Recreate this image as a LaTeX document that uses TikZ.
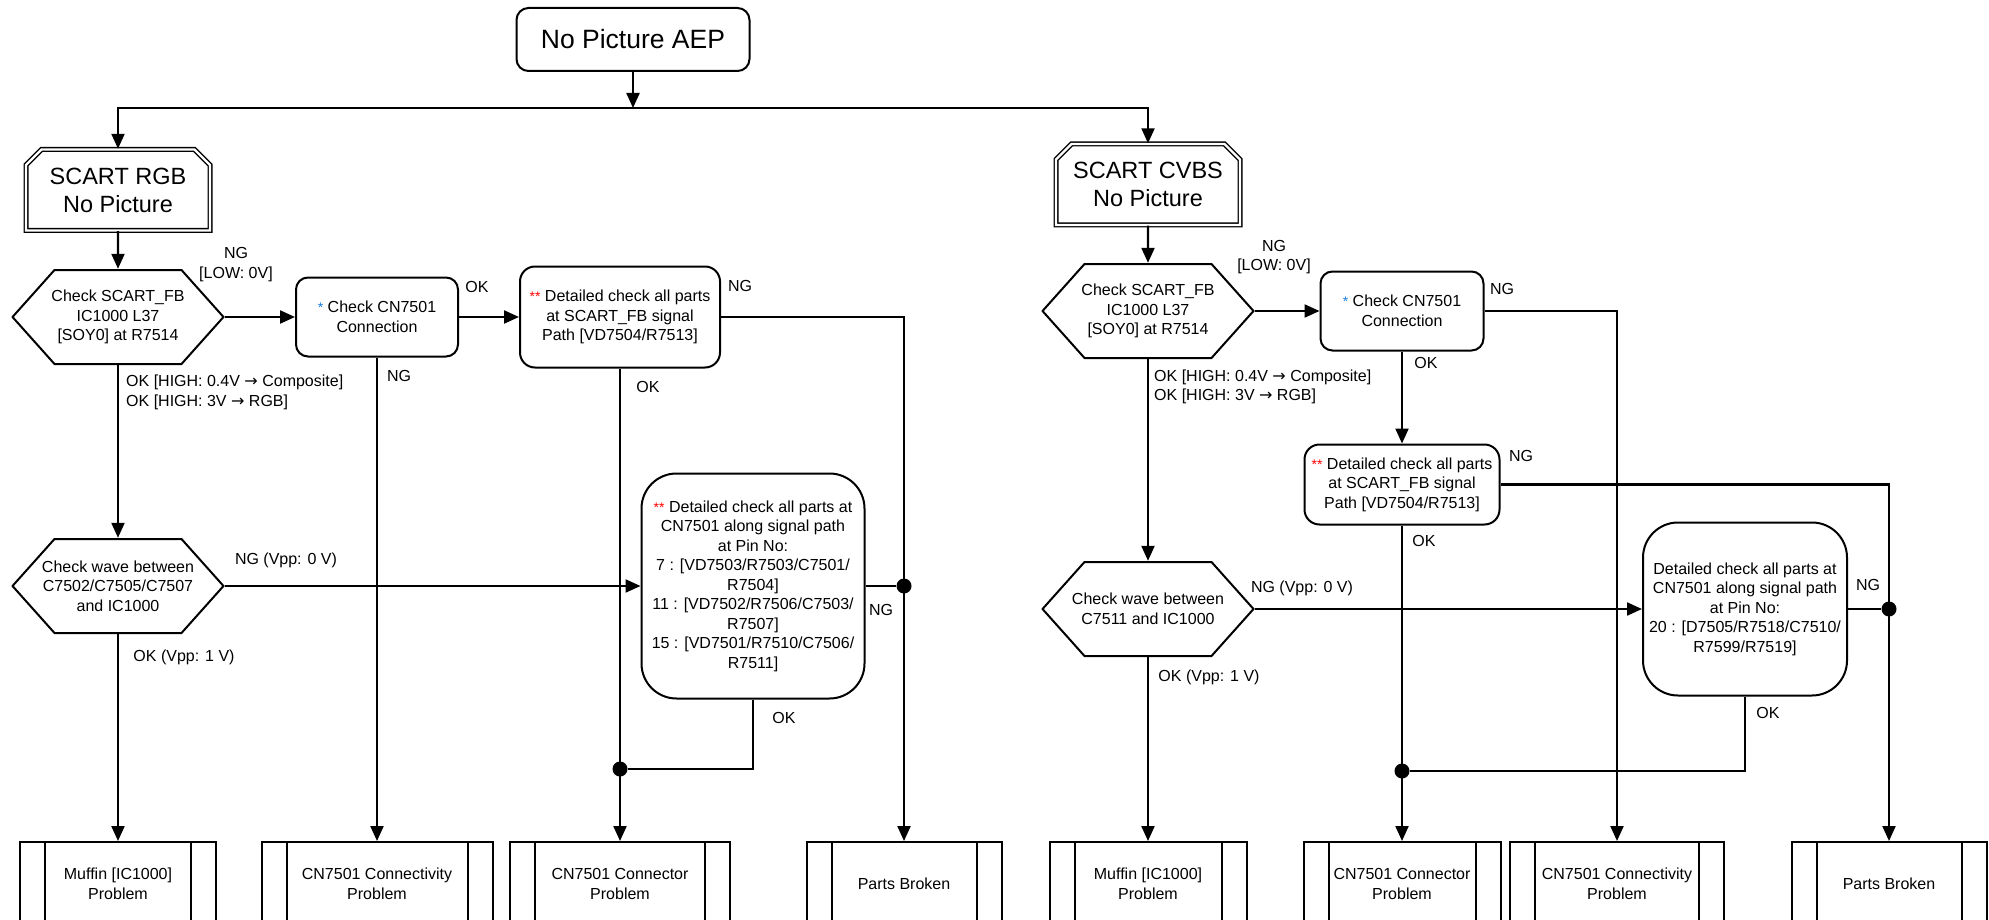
\documentclass[tikz,border=0pt]{standalone}
\usepackage{fontspec}
\setmainfont{Liberation Sans}
\newfontfamily\arrowfont{DejaVu Sans}
\usepackage{tikz}
\usetikzlibrary{arrows.meta,shapes.misc}
\definecolor{starblue}{RGB}{20,125,220}

\begin{document}
\begin{tikzpicture}[x=1pt, y=-1pt, >={Triangle[length=15pt,width=13pt]},
	every node/.style={font=\fontsize{16}{19.5}\selectfont},
	line/.style={line width=2.2pt},
	roundbox/.style={draw, line width=2pt, rounded corners=#1, align=center, inner sep=2pt},
	roundbox/.default=12pt,
	startbox/.style={draw, double, double distance=2.2pt, line width=1.4pt, chamfered rectangle, chamfered rectangle corners={north west,north east}, chamfered rectangle xsep=12pt, align=center, inner sep=2pt, font=\fontsize{23.5}{28}\selectfont},
	procbox/.style={draw, line width=2pt, minimum height=84pt, align=center, path picture={\draw[line width=2pt] ([xshift=25pt]path picture bounding box.north west) -- ([xshift=25pt]path picture bounding box.south west) ([xshift=-25pt]path picture bounding box.north east) -- ([xshift=-25pt]path picture bounding box.south east);}},
	hexbox/.style={minimum width=213pt, minimum height=96pt, align=center, inner sep=0pt, path picture={\draw[line width=2pt] ([xshift=1pt]path picture bounding box.west) -- ([xshift=43pt,yshift=-1pt]path picture bounding box.north west) -- ([xshift=-43pt,yshift=-1pt]path picture bounding box.north east) -- ([xshift=-1pt]path picture bounding box.east) -- ([xshift=-43pt,yshift=1pt]path picture bounding box.south east) -- ([xshift=43pt,yshift=1pt]path picture bounding box.south west) -- cycle;}},
	dot/.style={circle, fill, inner sep=0pt, minimum size=15pt},
	lbl/.style={inner sep=0pt, align=center}]
	\path[use as bounding box] (0,0) rectangle (1989,920);
	\clip (0,0) rectangle (1989,920);

	\node[roundbox, font=\fontsize{26.5}{32}\selectfont, minimum width=233pt, minimum height=63pt] (aep) at (633,39.5) {No Picture AEP};
	\coordinate (split) at (633,108);

	\node[startbox, minimum width=184pt, minimum height=81pt] (rgb) at (118,190) {SCART RGB\\No Picture};
	\node[hexbox] (fbL) at (118,317) {Check SCART\_FB\\IC1000 L37\\{}[SOY0] at R7514};
	\node[roundbox, minimum width=162pt, minimum height=79pt] (cnL) at (377,317) {\textcolor{starblue}{\fontsize{14}{14}\selectfont *} Check CN7501\\Connection};
	\node[roundbox=15pt, minimum width=200pt, minimum height=101pt] (pathL) at (620,317) {\textcolor{red}{\fontsize{14}{14}\selectfont **} Detailed check all parts\\at SCART\_FB signal\\Path [VD7504/R7513]};
	\node[hexbox] (waveL) at (118,586) {Check wave between\\C7502/C7505/C7507\\and IC1000};
	\node[roundbox=35pt, minimum width=223pt, minimum height=225pt] (pinL) at (753,586) {\textcolor{red}{\fontsize{14}{14}\selectfont **} Detailed check all parts at\\CN7501 along signal path\\at Pin No:\\7 : [VD7503/R7503/C7501/\\R7504]\\11 : [VD7502/R7506/C7503/\\R7507]\\15 : [VD7501/R7510/C7506/\\R7511]};
	\node[dot] (ngdotL) at (904,586) {};
	\node[dot] (okdotL) at (620,769) {};
	\node[procbox, minimum width=196pt] (muffinL) at (118,884) {Muffin [IC1000]\\Problem};
	\node[procbox, minimum width=231pt] (linkL) at (377,884) {CN7501 Connectivity\\Problem};
	\node[procbox, minimum width=220pt] (connL) at (620,884) {CN7501 Connector\\Problem};
	\node[procbox, minimum width=195pt] (brokenL) at (904,884) {Parts Broken};

	\node[startbox, minimum width=184pt, minimum height=81pt] (cvbs) at (1148,184.5) {SCART CVBS\\No Picture};
	\node[hexbox] (fbR) at (1148,311) {Check SCART\_FB\\IC1000 L37\\{}[SOY0] at R7514};
	\node[roundbox, minimum width=163pt, minimum height=79pt] (cnR) at (1402,311) {\textcolor{starblue}{\fontsize{14}{14}\selectfont *} Check CN7501\\Connection};
	\node[roundbox=15pt, minimum width=195pt, minimum height=80pt] (pathR) at (1402,484.5) {\textcolor{red}{\fontsize{14}{14}\selectfont **} Detailed check all parts\\at SCART\_FB signal\\Path [VD7504/R7513]};
	\node[hexbox] (waveR) at (1148,609) {Check wave between\\C7511 and IC1000};
	\node[roundbox=35pt, minimum width=204pt, minimum height=173pt] (pinR) at (1745,609) {Detailed check all parts at\\CN7501 along signal path\\at Pin No:\\20 : [D7505/R7518/C7510/\\R7599/R7519]};
	\node[dot] (ngdotR) at (1889,609) {};
	\node[dot] (okdotR) at (1402,771) {};
	\node[procbox, minimum width=197pt] (muffinR) at (1148,884) {Muffin [IC1000]\\Problem};
	\node[procbox, minimum width=197pt] (connR) at (1402,884) {CN7501 Connector\\Problem};
	\node[procbox, minimum width=214pt] (linkR) at (1617,884) {CN7501 Connectivity\\Problem};
	\node[procbox, minimum width=195pt] (brokenR) at (1889,884) {Parts Broken};

	\draw[line,->] (aep) -- (split);
	\draw[line,->] (split) -| (rgb);
	\draw[line,->] (split) -| (cvbs);

	\draw[line,->] (rgb) -- (fbL);
	\draw[line,->] (fbL) -- (cnL);
	\draw[line,->] (cnL) -- (pathL);
	\draw[line,->] (pathL) -| (brokenL);
	\draw[line,->] (cnL) -- (linkL);
	\draw[line,->] (pathL) -- (connL);
	\draw[line,->] (fbL) -- (waveL);
	\draw[line,->] (waveL) -- (pinL);
	\draw[line] (pinL) -- (ngdotL);
	\draw[line] (pinL) |- (okdotL);
	\draw[line,->] (waveL) -- (muffinL);

	\draw[line,->] (cvbs) -- (fbR);
	\draw[line,->] (fbR) -- (cnR);
	\draw[line,->] (cnR) -| (linkR);
	\draw[line,->] (cnR) -- (pathR);
	\draw[line,->] (pathR) -| (brokenR);
	\draw[line,->] (pathR) -- (connR);
	\draw[line,->] (fbR) -- (waveR);
	\draw[line,->] (waveR) -- (pinR);
	\draw[line] (pinR) -- (ngdotR);
	\draw[line] (pinR) |- (okdotR);
	\draw[line,->] (waveR) -- (muffinR);

	\node[lbl] (ngL1) at (236,264.5) {NG\\{}[LOW: 0V]};
	\node[lbl] (okL1) at (477,287) {OK};
	\node[lbl] (ngL2) at (740,286) {NG};
	\node[lbl] (ngL3) at (399,376) {NG};
	\node[lbl] (okL2) at (648,387) {OK};
	\node[lbl, anchor=west, align=left] (okL3) at (126,392.5) {OK [HIGH: 0.4V {\arrowfont →} Composite]\\OK [HIGH: 3V {\arrowfont →} RGB]};
	\node[lbl] (ngL4) at (286,560) {NG (Vpp: 0 V)};
	\node[lbl] (ngL5) at (881,610) {NG};
	\node[lbl] (okL4) at (784,718) {OK};
	\node[lbl] (okL5) at (184,657) {OK (Vpp: 1 V)};

	\node[lbl] (ngR1) at (1274,257) {NG\\{}[LOW: 0V]};
	\node[lbl] (ngR2) at (1502,289) {NG};
	\node[lbl] (okR1) at (1426,363) {OK};
	\node[lbl] (ngR3) at (1521,456) {NG};
	\node[lbl] (okR2) at (1424,541) {OK};
	\node[lbl, anchor=west, align=left] (okR3) at (1154,387) {OK [HIGH: 0.4V {\arrowfont →} Composite]\\OK [HIGH: 3V {\arrowfont →} RGB]};
	\node[lbl] (ngR4) at (1302,588) {NG (Vpp: 0 V)};
	\node[lbl] (ngR5) at (1868,585) {NG};
	\node[lbl] (okR4) at (1768,713) {OK};
	\node[lbl] (okR5) at (1209,677) {OK (Vpp: 1 V)};
\end{tikzpicture}
\end{document}
